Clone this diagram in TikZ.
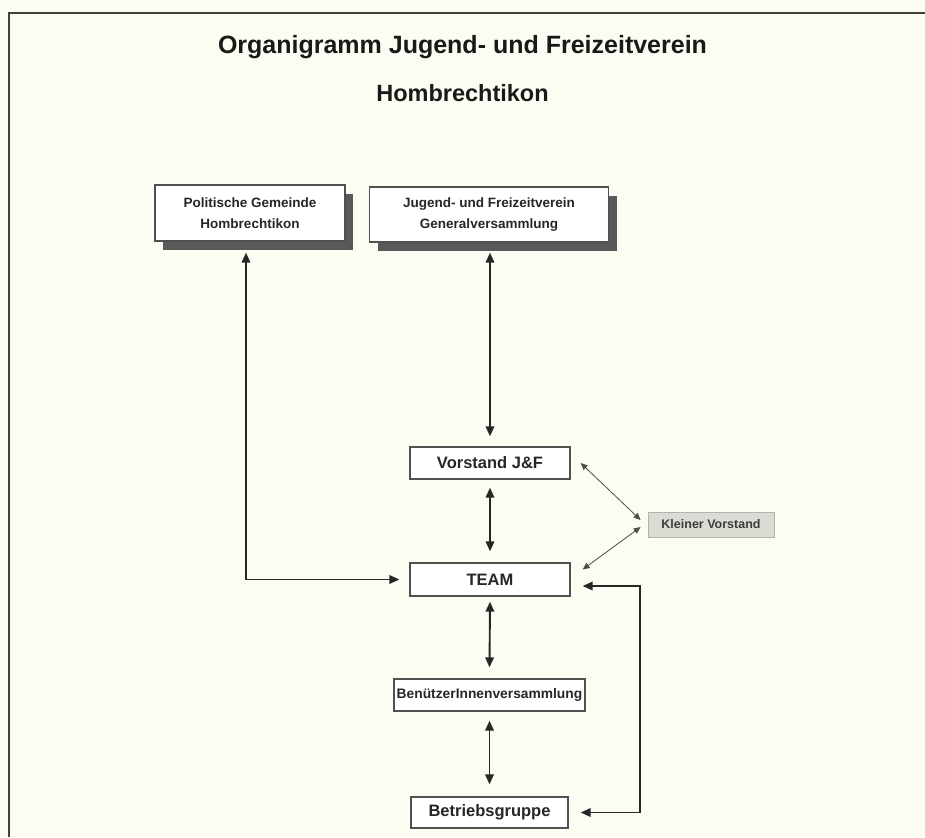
\documentclass[tikz,border=0pt]{standalone}
\usepackage{fontspec}
\setmainfont{Liberation Sans}
\usetikzlibrary{arrows.meta,shadows}
\definecolor{bg}{RGB}{252,252,243}
\definecolor{ink}{RGB}{38,38,38}
\definecolor{boxline}{RGB}{80,80,80}
\definecolor{kfill}{RGB}{218,220,212}
\begin{document}
\begin{tikzpicture}[x=1pt,y=-1pt,
  lbl/.style={font=\fontsize{13.5}{21}\selectfont\bfseries, text=ink, align=center, inner sep=0pt},
  big/.style={font=\fontsize{16.5}{20}\selectfont\bfseries},
  plainbox/.style={lbl, draw=boxline, line width=1.3pt, fill=white},
  shbox/.style={plainbox, drop shadow={shadow xshift=8pt, shadow yshift=-9pt, fill=black!65, opacity=1}},
  kbox/.style={font=\fontsize{12.5}{15}\selectfont\bfseries, text=ink!90, draw=black!30, line width=0.8pt, fill=kfill, inner sep=0pt},
  dbl/.style={draw=ink, line width=1.9pt, {Triangle[length=10pt,width=8.5pt]}-{Triangle[length=10pt,width=8.5pt]}},
  thin/.style={draw=black!70, line width=0.8pt, {Triangle[length=7pt,width=6pt]}-{Triangle[length=7pt,width=6pt]}},
  ttl/.style={font=\fontsize{25}{28}\selectfont\bfseries, text=black!90, inner sep=0pt}
]
\fill[bg] (0,0) rectangle (925,837);
\useasboundingbox (0,0) rectangle (925,837);
\draw[line width=1.6pt, black!75] (9,837) -- (9,13) -- (925,13);

\node[ttl] (t1) at (462.5,47) {Organigramm Jugend- und Freizeitverein};
\node[ttl, font=\fontsize{23.5}{28}\selectfont\bfseries] (t2) at (462.5,93) {Hombrechtikon};

\node[shbox, minimum width=190pt, minimum height=56pt] (pol) at (250,213) {Politische Gemeinde\\Hombrechtikon};
\node[shbox, minimum width=239pt, minimum height=55pt] (gv) at (489,214.5) {Jugend- und Freizeitverein\\Generalversammlung};
\node[plainbox, big, minimum width=160pt, minimum height=32pt] (vor) at (490,463) {Vorstand J\&F};
\node[plainbox, big, minimum width=160pt, minimum height=33pt] (team) at (490,579.5) {TEAM};
\node[kbox, minimum width=126pt, minimum height=25pt] (klein) at (711,524.5) {Kleiner Vorstand};
\node[plainbox, font=\fontsize{13.8}{16}\selectfont\bfseries, minimum width=191pt, minimum height=32pt] (benu) at (489.5,695) {BenützerInnenversammlung};
\node[plainbox, big, minimum width=157pt, minimum height=31pt] (betr) at (489.5,812.5) {Betriebsgruppe};

\draw[dbl] ([xshift=-4pt,yshift=-11pt]pol.south) |- ([xshift=-10pt]team.west);
\draw[dbl] ([yshift=-10pt]gv.south -| vor.north) -- ([yshift=10pt]vor.north);
\draw[dbl] ([yshift=-8pt]vor.south) -- ([yshift=11pt]team.north);
\draw[dbl] ([yshift=-5pt]team.south) -- ([yshift=11pt]benu.north);
\draw[dbl] ([yshift=-9pt]benu.south) -- ([yshift=12pt]betr.north);
\draw[dbl] ([xshift=12pt]betr.east) -- ++(59,0) |- ([xshift=12pt,yshift=-6.5pt]team.east);

\draw[thin] ([xshift=10pt,yshift=0pt]vor.east) -- ([xshift=-7pt,yshift=4.5pt]klein.west);
\draw[thin] ([xshift=-7pt,yshift=-2.5pt]klein.west) -- ([xshift=12pt,yshift=10pt]team.east);
\end{tikzpicture}
\end{document}
